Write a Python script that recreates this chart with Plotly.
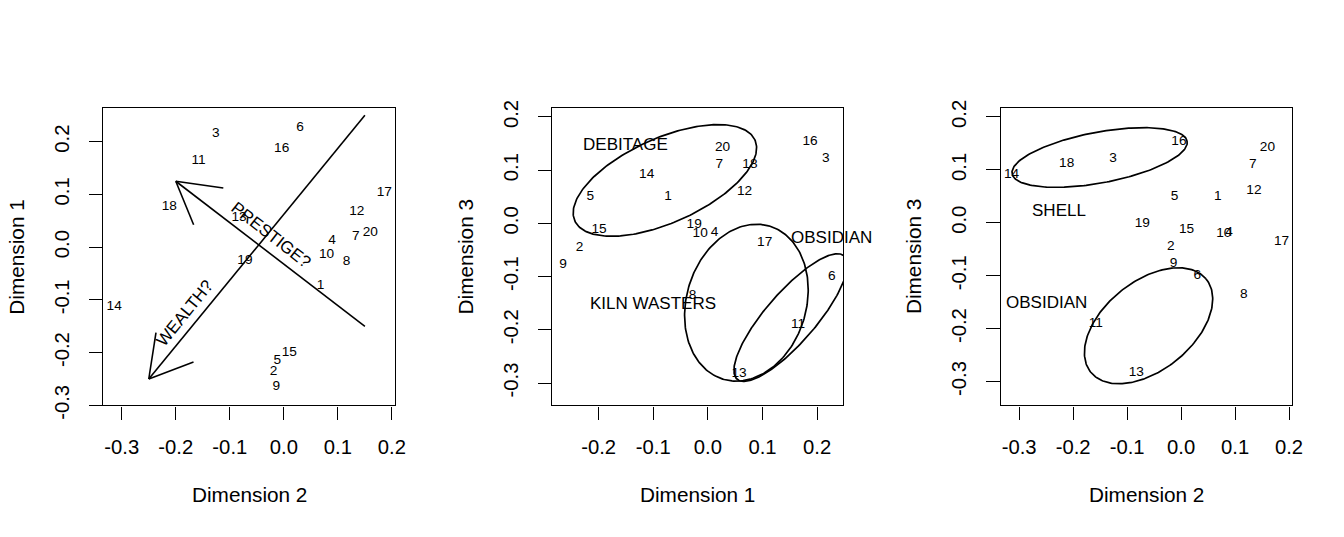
import numpy as np
import plotly.graph_objects as go

# ---------------- data ----------------
point_ids = [str(i) for i in range(1, 21)]
dim1 = [-0.073, -0.235, 0.216, 0.012, -0.215, 0.227, 0.021, -0.028, -0.265, -0.014,
        0.165, 0.067, 0.057, -0.112, -0.199, 0.187, 0.104, 0.077, -0.025, 0.027]
dim2 = [0.068, -0.019, -0.126, 0.089, -0.012, 0.030, 0.133, 0.116, -0.014, 0.079,
        -0.158, 0.135, -0.083, -0.314, 0.010, -0.004, 0.186, -0.212, -0.072, 0.160]
dim3 = [0.050, -0.045, 0.121, -0.018, 0.050, -0.100, 0.110, -0.136, -0.078, -0.020,
        -0.190, 0.060, -0.283, 0.091, -0.012, 0.153, -0.036, 0.111, -0.002, 0.143]

tick_vals = [-0.3, -0.2, -0.1, 0.0, 0.1, 0.2]
tick_text = ["-0.3", "-0.2", "-0.1", "0.0", "0.1", "0.2"]

# interpretive arrows (panel 1): tail -> tip
arrow_names = ["WEALTH?", "PRESTIGE?"]
arrow_tail_x = [0.15, 0.15]
arrow_tail_y = [0.25, -0.15]
arrow_tip_x = [-0.25, -0.20]
arrow_tip_y = [-0.25, 0.125]
arrow_label_x = [-0.184, -0.023]
arrow_label_y = [-0.125, 0.022]
arrow_label_angle = [-51, 38]

# group ellipses: panel, centre, semi-axes, rotation (deg)
ell_panel = [2, 2, 2, 3, 3]
ell_cx = [-0.0787, 0.0705, 0.1515, -0.151, -0.0603]
ell_cy = [0.0808, -0.149, -0.177, 0.1234, -0.1946]
ell_a = [0.1815, 0.150, 0.1518, 0.165, 0.1385]
ell_b = [0.079, 0.1097, 0.0463, 0.048, 0.0833]
ell_ang = [25.0, 74.3, 50.0, 10.8, 40.0]

# group labels
grp_panel = [2, 2, 2, 3, 3]
grp_text = ["DEBITAGE", "KILN WASTERS", "OBSIDIAN", "SHELL", "OBSIDIAN"]
grp_x = [-0.151, -0.100, 0.226, -0.226, -0.250]
grp_y = [0.149, -0.151, -0.026, 0.0227, -0.151]

# ---------------- layout geometry ----------------
W, H = 1344, 537
# the captured picture comes out slightly smaller than the page; compensate
KX, KY = 1 / 0.991, 1 / 0.983
KF = (KX + KY) / 2


def px(xp):   # target picture pixel -> paper x
    return xp * KX / W


def py(yp):   # target picture pixel -> paper y
    return 1 - yp * KY / H


FONT = "Liberation Sans, Arial, Helvetica, sans-serif"
panels = [
    dict(x=dim2, y=dim1, xt="Dimension 2", yt="Dimension 1",
         xr=[-0.334, 0.205], yr=[-0.300, 0.263], box=(103.3, 394.3)),
    dict(x=dim1, y=dim3, xt="Dimension 1", yt="Dimension 3",
         xr=[-0.285, 0.248], yr=[-0.342, 0.216], box=(551.7, 842.7)),
    dict(x=dim2, y=dim3, xt="Dimension 2", yt="Dimension 3",
         xr=[-0.334, 0.205], yr=[-0.345, 0.216], box=(1000.0, 1290.7)),
]
box_top, box_bot = 103.0, 407.3
ydom = [py(box_bot), py(box_top)]

fig = go.Figure()
annotations = []

for i, p in enumerate(panels):
    n = i + 1
    xa = "x" if n == 1 else f"x{n}"
    ya = "y" if n == 1 else f"y{n}"
    xtv = [v for v in tick_vals if p["xr"][0] <= v <= p["xr"][1]]
    xtt = [tick_text[tick_vals.index(v)] for v in xtv]
    ytv = [v for v in tick_vals if p["yr"][0] <= v <= p["yr"][1]]
    ytt = [tick_text[tick_vals.index(v)] for v in ytv]
    axis_common = dict(showgrid=False, zeroline=False, showline=True, mirror=True,
                       linecolor="black", linewidth=1.4, ticks="outside",
                       ticklen=13 * KF, tickwidth=1.4, tickcolor="black",
                       tickfont=dict(family=FONT, size=20 * KF, color="black"))
    fig.update_layout(**{
        ("xaxis" if n == 1 else f"xaxis{n}"): dict(
            domain=[px(p["box"][0]), px(p["box"][1])], range=p["xr"], anchor=ya,
            tickvals=xtv, ticktext=xtt, ticklabelstandoff=10, **axis_common),
        ("yaxis" if n == 1 else f"yaxis{n}"): dict(
            domain=ydom, range=p["yr"], anchor=xa, tickangle=-90,
            tickvals=ytv, ticktext=ytt, ticklabelstandoff=12, **axis_common),
    })
    # point labels
    fig.add_trace(go.Scatter(x=p["x"], y=p["y"], mode="text", text=point_ids,
                             textposition="middle center", cliponaxis=False,
                             textfont=dict(family=FONT, size=13.5 * KF, color="black"),
                             xaxis=xa, yaxis=ya, showlegend=False, hoverinfo="skip"))
    # axis titles
    cx = (p["box"][0] + p["box"][1]) / 2
    annotations.append(dict(text=p["xt"], xref="paper", yref="paper",
                            x=px(cx), y=py(499), showarrow=False,
                            xanchor="center", yanchor="middle",
                            font=dict(family=FONT, size=20.5 * KF, color="black")))
    annotations.append(dict(text=p["yt"], xref="paper", yref="paper",
                            x=px(p["box"][0] - 86.6),
                            y=py((box_top + box_bot) / 2), showarrow=False,
                            textangle=-90, xanchor="center", yanchor="middle",
                            font=dict(family=FONT, size=20.5 * KF, color="black")))

# ---------------- arrows (panel 1) ----------------
p1 = panels[0]
sx = (p1["box"][1] - p1["box"][0]) / (p1["xr"][1] - p1["xr"][0])
sy = (box_bot - box_top) / (p1["yr"][1] - p1["yr"][0])
head_px = 48.0
for k in range(len(arrow_names)):
    tx, ty = arrow_tail_x[k], arrow_tail_y[k]
    hx, hy = arrow_tip_x[k], arrow_tip_y[k]
    dxp, dyp = (tx - hx) * sx, (ty - hy) * sy
    L = np.hypot(dxp, dyp)
    ux, uy = dxp / L, dyp / L
    xs = [tx, hx, None]
    ys = [ty, hy, None]
    for s in (1, -1):
        ang = np.deg2rad(30) * s
        rx = ux * np.cos(ang) - uy * np.sin(ang)
        ry = ux * np.sin(ang) + uy * np.cos(ang)
        xs += [hx, hx + rx * head_px / sx, None]
        ys += [hy, hy + ry * head_px / sy, None]
    fig.add_trace(go.Scatter(x=xs, y=ys, mode="lines",
                             line=dict(color="black", width=1.6),
                             xaxis="x", yaxis="y", showlegend=False, hoverinfo="skip"))
    annotations.append(dict(text=arrow_names[k], xref="x", yref="y",
                            x=arrow_label_x[k], y=arrow_label_y[k], showarrow=False,
                            textangle=arrow_label_angle[k], xanchor="center", yanchor="middle",
                            font=dict(family=FONT, size=16.8 * KF, color="black")))

# ---------------- ellipses ----------------
t = np.linspace(0, 2 * np.pi, 241)
for k in range(len(ell_cx)):
    n = ell_panel[k]
    th = np.deg2rad(ell_ang[k])
    ex = ell_cx[k] + ell_a[k] * np.cos(t) * np.cos(th) - ell_b[k] * np.sin(t) * np.sin(th)
    ey = ell_cy[k] + ell_a[k] * np.cos(t) * np.sin(th) + ell_b[k] * np.sin(t) * np.cos(th)
    fig.add_trace(go.Scatter(x=ex, y=ey, mode="lines",
                             line=dict(color="black", width=1.7),
                             xaxis=f"x{n}", yaxis=f"y{n}", showlegend=False, hoverinfo="skip"))

for k in range(len(grp_text)):
    n = grp_panel[k]
    annotations.append(dict(text=grp_text[k], xref=f"x{n}", yref=f"y{n}",
                            x=grp_x[k], y=grp_y[k], showarrow=False,
                            xanchor="center", yanchor="middle",
                            font=dict(family=FONT, size=16.8 * KF, color="black")))

fig.update_layout(width=W, height=H, margin=dict(l=0, r=0, t=0, b=0),
                  paper_bgcolor="white", plot_bgcolor="white",
                  annotations=annotations, showlegend=False)

fig.write_html("out.html", config={"displayModeBar": False},
               post_script="document.body.style.margin='0px';"
                           "document.body.style.overflow='hidden';")
